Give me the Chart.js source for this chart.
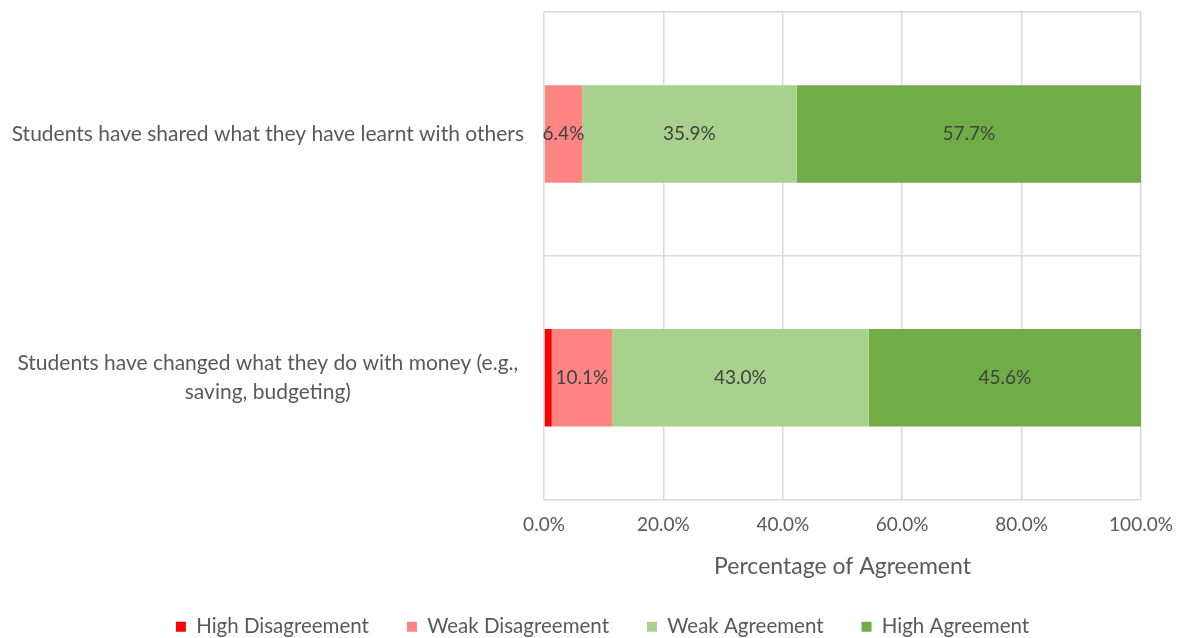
<!DOCTYPE html>
<html>
<head>
<meta charset="utf-8">
<script src="https://cdn.jsdelivr.net/npm/chart.js@4/dist/chart.umd.min.js"></script>
<style>
  html, body { margin: 0; padding: 0; background: #fff; }
  #wrap { width: 1182px; height: 638px; position: relative; }
</style>
</head>
<body>
<div id="wrap"><canvas id="agreeChart"></canvas></div>
<script>
// Survey statements (y categories)
const statements = [
  'Students have shared what they have learnt with others',
  ['Students have changed what they do with money (e.g.,', 'saving, budgeting)']
];

// Percentages per response level, one entry per statement
const highDisagreement = [0, 1.3];
const weakDisagreement = [6.4, 10.1];
const weakAgreement = [35.9, 43.0];
const highAgreement = [57.7, 45.6];

const xTicks = [0, 20, 40, 60, 80, 100];

const FONT = 'Lato, "Open Sans", sans-serif';

// Draw value labels in the middle of each segment
const segmentLabels = {
  id: 'segmentLabels',
  afterDatasetsDraw(chart) {
    const ctx = chart.ctx;
    ctx.save();
    ctx.font = '19px ' + FONT;
    ctx.fillStyle = '#404040';
    ctx.textAlign = 'center';
    ctx.textBaseline = 'middle';
    chart.data.datasets.forEach((ds, i) => {
      if (ds.hideLabels) return;
      const meta = chart.getDatasetMeta(i);
      meta.data.forEach((bar, j) => {
        const v = ds.data[j];
        if (!v) return;
        ctx.fillText(v.toFixed(1) + '%', (bar.x + bar.base) / 2, bar.y);
      });
    });
    ctx.restore();
  }
};

// Legend sits a little right of the canvas centre, like the original
const legendShift = {
  id: 'legendShift',
  afterLayout(chart) {
    if (chart.legend) {
      chart.legend.left += 28;
      chart.legend.right += 28;
    }
  }
};

const ctx = document.getElementById('agreeChart').getContext('2d');
new Chart(ctx, {
  type: 'bar',
  data: {
    labels: statements,
    datasets: [
      { label: 'High Disagreement', data: highDisagreement, backgroundColor: '#ff0000', hideLabels: true },
      { label: 'Weak Disagreement', data: weakDisagreement, backgroundColor: '#ff8585' },
      { label: 'Weak Agreement', data: weakAgreement, backgroundColor: '#a9d18e' },
      { label: 'High Agreement', data: highAgreement, backgroundColor: '#70ad47' }
    ]
  },
  options: {
    indexAxis: 'y',
    responsive: true,
    maintainAspectRatio: false,
    animation: false,
    layout: { padding: { left: 8, right: 41, top: 12, bottom: -9 } },
    datasets: {
      bar: { categoryPercentage: 1, barPercentage: 0.4 }
    },
    scales: {
      x: {
        stacked: true,
        min: 0,
        max: 100,
        afterBuildTicks: axis => { axis.ticks = xTicks.map(v => ({ value: v })); },
        afterFit: axis => {
          axis.height = 79;
          axis.paddingLeft = 0;
          axis.paddingRight = 0;
        },
        ticks: {
          color: '#595959',
          font: { family: FONT, size: 19 },
          padding: 14,
          maxRotation: 0,
          callback: v => v.toFixed(1) + '%'
        },
        grid: { color: '#d9d9d9', lineWidth: 1.5, drawTicks: false },
        border: { display: false },
        title: {
          display: true,
          text: 'Percentage of Agreement',
          color: '#595959',
          font: { family: FONT, size: 23 },
          padding: { top: 0, bottom: -2 }
        }
      },
      y: {
        stacked: true,
        afterFit: axis => {
          axis.width = 536;
          axis.paddingTop = 0;
          axis.paddingBottom = 0;
        },
        ticks: {
          color: '#595959',
          font: { family: FONT, size: 21, lineHeight: 1.35 },
          crossAlign: 'center',
          padding: 20
        },
        grid: { color: '#d9d9d9', lineWidth: 1.5, offset: true, drawTicks: false },
        border: { display: false }
      }
    },
    plugins: {
      legend: {
        position: 'bottom',
        labels: {
          color: '#595959',
          font: { family: FONT, size: 20.5 },
          boxWidth: 10,
          boxHeight: 10,
          padding: 38
        }
      },
      tooltip: { enabled: false }
    }
  },
  plugins: [segmentLabels, legendShift]
});
</script>
</body>
</html>
